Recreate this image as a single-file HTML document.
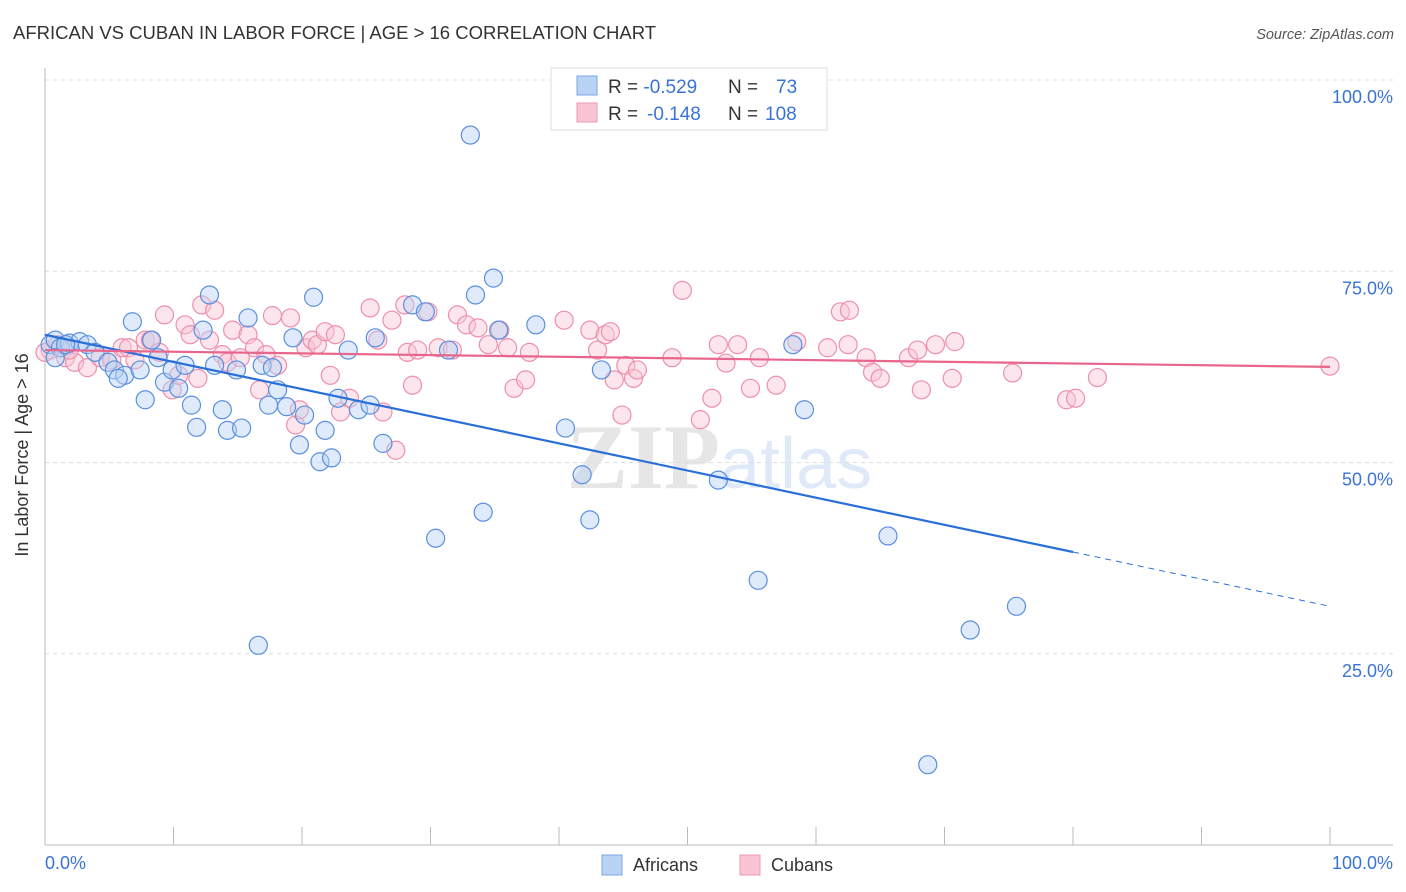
<!DOCTYPE html>
<html><head><meta charset="utf-8"><style>
body{margin:0;background:#fff;font-family:"Liberation Sans",sans-serif;}
svg{display:block}
</style></head><body>
<svg width="1406" height="892" viewBox="0 0 1406 892" xmlns="http://www.w3.org/2000/svg">
<text x="13" y="39" font-size="18.5" fill="#333">AFRICAN VS CUBAN IN LABOR FORCE | AGE &gt; 16 CORRELATION CHART</text>
<text x="1394" y="39" font-size="14.5" fill="#555" font-style="italic" text-anchor="end">Source: ZipAtlas.com</text>
<text x="720" y="488" font-size="92" font-weight="bold" fill="#e6e6e6" text-anchor="end" font-family="Liberation Serif,serif">ZIP</text>
<text x="720" y="488" font-size="72" fill="#dfe9f7">atlas</text>
<g id="grid"></g>
<g id="axes"></g>
<g id="pts"></g>
<g id="lines"></g>
<text x="28" y="455" font-size="18" fill="#333" text-anchor="middle" transform="rotate(-90 28 455)">In Labor Force | Age &gt; 16</text>
<text x="45" y="869" font-size="18" fill="#3a73d6">0.0%</text>
<text x="1393" y="869" font-size="18" fill="#3a73d6" text-anchor="end">100.0%</text>
<g>
<rect x="551" y="68" width="276" height="62" fill="#fff" stroke="#ddd"/>
<rect x="577" y="76" width="20" height="19" fill="#b9d3f5" stroke="#7aa6e6"/>
<rect x="577" y="103" width="20" height="19" fill="#f9c5d4" stroke="#ee9ab3"/>
<text x="608" y="93" font-size="19" fill="#333">R = <tspan fill="#3a73d6">-0.529</tspan><tspan x="728">N = </tspan><tspan x="776" fill="#3a73d6">73</tspan></text>
<text x="608" y="120" font-size="19" fill="#333">R = <tspan fill="#3a73d6" x="647">-0.148</tspan><tspan x="728">N = </tspan><tspan x="765" fill="#3a73d6">108</tspan></text>
</g>
<g>
<rect x="602" y="855" width="20" height="20" fill="#b9d3f5" stroke="#7aa6e6"/>
<text x="633" y="871" font-size="18" fill="#333">Africans</text>
<rect x="740" y="855" width="20" height="20" fill="#f9c5d4" stroke="#ee9ab3"/>
<text x="771" y="871" font-size="18" fill="#333">Cubans</text>
</g>
</svg>
<script>
const yTicks=[100,75,50,25];
const yTickLabels=["100.0%","75.0%","50.0%","25.0%"];
const xTicks=[0,10,20,30,40,50,60,70,80,90,100];
const africansX=[0.4,0.8,1.2,1.9,2.7,3.3,3.9,4.9,5.4,6.2,5.7,6.8,7.4,7.8,8.3,8.8,9.3,9.9,10.4,10.9,11.4,11.8,12.3,12.8,13.2,13.8,14.2,14.9,15.3,15.8,16.6,16.9,17.4,17.7,18.1,18.8,19.3,19.8,20.2,20.9,21.4,21.8,22.3,22.8,23.6,24.4,25.3,25.7,26.3,28.6,29.6,30.4,31.4,33.1,33.5,34.1,34.9,35.3,38.2,40.5,41.8,42.4,43.3,52.4,55.5,58.2,59.1,65.6,68.7,72.0,75.6,0.8,1.6];
const africansY=[65.4,66.0,65.0,65.6,65.8,65.4,64.4,63.1,62.1,61.4,61.0,68.4,62.1,58.2,66.0,63.7,60.5,62.1,59.7,62.7,57.5,54.6,67.3,71.9,62.7,56.9,54.2,62.1,54.5,68.9,26.1,62.7,57.5,62.4,59.5,57.3,66.3,52.3,56.2,71.6,50.1,54.2,50.6,58.4,64.7,56.9,57.5,66.3,52.5,70.6,69.7,40.1,64.7,92.8,71.9,43.5,74.1,67.3,68.0,54.5,48.4,42.5,62.1,47.7,34.6,65.4,56.9,40.4,10.5,28.1,31.2,63.7,65.4];
const cubansX=[0.4,1.0,1.6,2.3,3.3,4.3,5.2,6.0,6.5,7.0,7.8,8.2,8.9,9.3,9.9,10.4,10.9,11.3,11.9,12.2,12.8,13.2,13.8,14.2,14.6,15.2,15.8,16.3,16.7,17.2,17.7,18.1,19.1,19.5,19.8,20.3,20.8,21.2,21.8,22.2,22.6,23.0,23.7,25.3,25.9,26.3,27.0,27.3,28.0,28.2,28.6,29.0,29.8,30.6,31.7,32.1,32.8,33.7,34.5,35.4,36.0,36.5,37.4,37.7,40.4,42.4,43.0,43.6,44.0,44.3,44.9,45.2,45.8,46.1,48.8,49.6,51.0,51.9,52.4,53.0,53.9,54.9,55.6,56.9,58.5,60.9,61.9,62.6,62.5,63.9,64.4,65.0,67.2,67.9,68.2,69.3,70.6,70.8,75.3,79.5,80.2,81.9,100,0,1.9];
const cubansY=[64.7,65.4,63.7,63.1,62.4,63.7,63.4,65.0,65.0,63.4,66.0,66.0,64.4,69.3,59.5,61.4,68.0,66.7,61.0,70.6,66.0,69.9,64.1,63.1,67.3,63.7,66.7,65.0,59.5,64.1,69.2,62.7,68.9,54.9,56.9,65.0,66.0,65.4,67.1,61.4,66.7,56.6,58.4,70.2,66.0,56.6,68.6,51.6,70.6,64.4,60.1,64.7,69.7,65.0,64.7,69.3,68.0,67.6,65.4,67.3,65.0,59.7,60.8,64.4,68.6,67.3,64.7,66.7,67.1,60.8,56.2,62.7,61.0,62.1,63.7,72.5,55.6,58.4,65.4,63.0,65.4,59.7,63.7,60.1,65.8,65.0,69.7,69.9,65.4,63.7,61.8,61.0,63.7,64.7,59.5,65.4,61.0,65.8,61.7,58.2,58.4,61.1,62.6,64.4,64.7];
const africanTrend=[66.7,-0.355];
const cubanTrend=[64.7,-0.022];
const X0=45,X1=1330,Y0=845,Y100=80;
const sx=v=>X0+(X1-X0)*v/100, sy=v=>Y0-(Y0-Y100)*v/100;
const NS="http://www.w3.org/2000/svg";
function mk(t,a,p){const e=document.createElementNS(NS,t);for(const k in a)e.setAttribute(k,a[k]);p.appendChild(e);return e;}
const grid=document.getElementById('grid'),axes=document.getElementById('axes'),pts=document.getElementById('pts'),lines=document.getElementById('lines');
yTicks.forEach((t,i)=>{
 const g=mk('line',{x1:X0,x2:1393,y1:sy(t),y2:sy(t),stroke:'#ddd','stroke-dasharray':'4,4'},grid);
 
 
 const l=mk('text',{x:1393,y:sy(t)+23,'font-size':18,fill:'#3a73d6','text-anchor':'end'},axes);
 l.textContent=yTickLabels[i];
 
 
});
const ya=mk('line',{x1:X0,x2:X0,y1:68,y2:Y0,stroke:'#bbb'},axes);


const xa=mk('line',{x1:X0,x2:1393,y1:Y0,y2:Y0,stroke:'#bbb'},axes);


xTicks.forEach(t=>{
 const k=mk('line',{x1:sx(t),x2:sx(t),y1:827,y2:Y0,stroke:'#bbb'},axes);
 
 
});
function dots(xs,ys,fill,stroke,name){
 xs.forEach((x,i)=>{
  const c=mk('circle',{cx:sx(x),cy:sy(ys[i]),r:9,fill:fill,'fill-opacity':0.45,stroke:stroke,'stroke-width':1.2},pts);
  
  
 });
}
dots(cubansX,cubansY,'#f9c5d4','#ee8fab','cuban-point');
dots(africansX,africansY,'#b9d3f5','#5a8fe0','african-point');
const aEnd=80;
const la=mk('line',{x1:sx(0),y1:sy(africanTrend[0]),x2:sx(aEnd),y2:sy(africanTrend[0]+africanTrend[1]*aEnd),stroke:'#2a6fd8','stroke-width':2.2},lines);


const ld=mk('line',{x1:sx(aEnd),y1:sy(africanTrend[0]+africanTrend[1]*aEnd),x2:sx(100),y2:sy(africanTrend[0]+africanTrend[1]*100),stroke:'#2a6fd8','stroke-width':1,'stroke-dasharray':'6,5'},lines);


const lc=mk('line',{x1:sx(0),y1:sy(cubanTrend[0]),x2:sx(100),y2:sy(cubanTrend[0]+cubanTrend[1]*100),stroke:'#e8658c','stroke-width':2.2},lines);


</script>
</body></html>
